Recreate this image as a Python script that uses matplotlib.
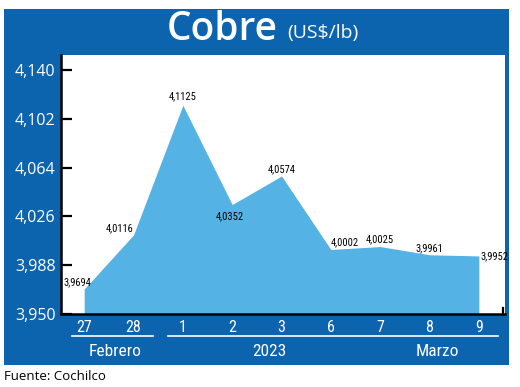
import matplotlib
matplotlib.use("Agg")
import matplotlib.pyplot as plt
from matplotlib.patches import Rectangle
import matplotlib.transforms as mtransforms
from matplotlib import font_manager

# ---- data ----
day_labels = ["27", "28", "1", "2", "3", "6", "7", "8", "9"]
values = [3.9694, 4.0116, 4.1125, 4.0352, 4.0574, 4.0002, 4.0025, 3.9961, 3.9952]
value_labels = ["3,9694", "4,0116", "4,1125", "4,0352", "4,0574", "4,0002", "4,0025", "3,9961", "3,9952"]
y_ticks = [3.950, 3.988, 4.026, 4.064, 4.102, 4.140]
y_tick_labels = ["3,950", "3,988", "4,026", "4,064", "4,102", "4,140"]
group_labels = ["Febrero", "2023", "Marzo"]

W, H = 520, 387
DARK = "#0c63ae"
FILL = "#54b3e4"
names = {f.name for f in font_manager.fontManager.ttflist}
narrow_candidates = [n for n in ["Liberation Sans Narrow", "Roboto Condensed",
                                 "DejaVu Sans Condensed", "Open Sans Condensed"] if n in names]
NARROW = narrow_candidates + ["DejaVu Sans"]
SANS = ["Open Sans", "DejaVu Sans"]

fig = plt.figure(figsize=(W / 100, H / 100), dpi=100)
fig.patch.set_facecolor("white")

def fx(x):
    return x / W

def fy(y):
    return 1 - y / H

# blue frame
bg = Rectangle((fx(4), fy(365)), fx(505), (365 - 9) / H,
               transform=fig.transFigure, facecolor=DARK, edgecolor="none", zorder=-5)
fig.add_artist(bg)

# axes (white plot area)
ax = fig.add_axes([fx(61), fy(314), fx(505 - 61), (314 - 55) / H])
ax.set_zorder(1)
ax.set_facecolor("white")
x = list(range(len(values)))
ax.fill_between(x, 3.950, values, color=FILL, linewidth=0, zorder=2)
ax.set_xlim(-0.47, 8.53)
ax.set_ylim(3.950, 4.1516)

ax.set_yticks(y_ticks)
ax.set_yticklabels(y_tick_labels, color="white", fontsize=11.5, family=SANS)
ax.tick_params(axis="y", direction="in", length=8, width=1.6, color="black", pad=4)
ax.set_xticks(x)
ax.set_xticklabels(day_labels, color="white", fontsize=11.5, family=NARROW, stretch="condensed")
ax.tick_params(axis="x", length=0, pad=4)
for s in ["top", "right"]:
    ax.spines[s].set_visible(False)
ax.spines["left"].set_linewidth(1.8)
ax.spines["bottom"].set_linewidth(1.8)
# small end tick on the bottom axis
ax.add_line(plt.Line2D([0.995, 0.995], [0, 0.022], transform=ax.transAxes,
                       color="black", linewidth=1.6, clip_on=False))

# value labels: (dx, dy, ha, va) in points
offsets = [None, (0, 1, "right", "bottom"), (0, 3, "center", "bottom"),
           (-2, -5, "center", "top"), (0, 1, "center", "bottom"), (0, 2, "left", "bottom"),
           (0, 2, "center", "bottom"), (0, 1, "center", "bottom"), (1, 0, "left", "center")]
for xi, v, lab, off in zip(x, values, value_labels, offsets):
    if off is None:
        # first label sits just right of the y axis, above the first point
        ax.annotate(lab, (0, v), xycoords=("axes fraction", "data"),
                    xytext=(1.5, 1), textcoords="offset points",
                    ha="left", va="bottom", fontsize=7.6,
                    family=NARROW, stretch="condensed", color="black", zorder=3)
        continue
    dx, dy, ha, va = off
    ax.annotate(lab, (xi, v), xytext=(dx, dy), textcoords="offset points",
                ha=ha, va=va, fontsize=7.6,
                family=NARROW, stretch="condensed", color="black", zorder=3)

# group underlines and labels
trans = mtransforms.blended_transform_factory(ax.transData, fig.transFigure)
fig.add_artist(plt.Line2D([-0.24, 1.40], [fy(336), fy(336)], transform=trans,
                          color="white", linewidth=1.2, zorder=2))
fig.add_artist(plt.Line2D([1.69, 8.39], [fy(336), fy(336)], transform=trans,
                          color="white", linewidth=1.2, zorder=2))
for gx, g in zip([0.62, 3.75, 7.15], group_labels):
    fig.text(gx, fy(352), g, transform=trans, ha="center", va="center",
             color="white", fontsize=12.5, family=NARROW, stretch="condensed", zorder=2)

# title
fig.text(fx(222), fy(30), "Cobre", ha="center", va="center", color="white",
         fontsize=28, fontweight="semibold", family=SANS, zorder=2)
fig.text(fx(287), fy(33), "(US$/lb)", ha="left", va="center", color="white",
         fontsize=14, family=SANS, zorder=2)

# source
fig.text(fx(4), fy(377), "Fuente: Cochilco", ha="left", va="center",
         color="black", fontsize=9.5, family=SANS)

fig.savefig("out.png", dpi=100)
